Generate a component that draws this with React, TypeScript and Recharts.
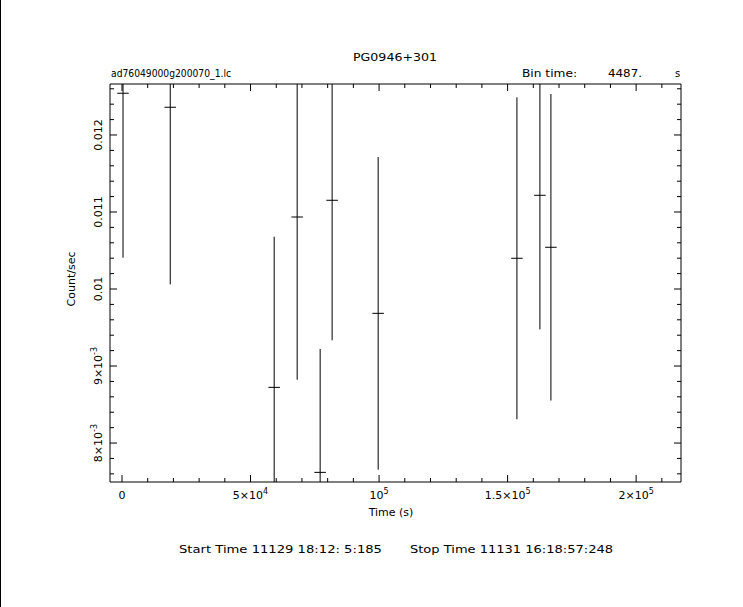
import React from 'react';
import { ScatterChart, Scatter, XAxis, YAxis, ErrorBar } from 'recharts';

// Light curve bins (time in s since start, rate in count/sec)
const times = [400, 18770, 59200, 68140, 77080, 81740, 99650, 153630, 162570, 166850];
const rates = [0.012542, 0.01236, 0.008723, 0.010935, 0.007619, 0.011152, 0.009684, 0.010399, 0.011217, 0.010542];
const rateErrors = [0.002136, 0.0023, 0.001956, 0.002113, 0.001602, 0.001818, 0.00203, 0.00209, 0.00174, 0.00199];
const halfBin = 2243.5;

const xTicks = [0, 10000, 20000, 30000, 40000, 50000, 60000, 70000, 80000, 90000, 100000, 110000, 120000, 130000, 140000, 150000, 160000, 170000, 180000, 190000, 200000, 210000];
const xMajorTicks = [0, 50000, 100000, 150000, 200000];
const xTickLabels = ['0', '5×10^4', '10^5', '1.5×10^5', '2×10^5'];

const yTicks = [0.0076, 0.0078, 0.008, 0.0082, 0.0084, 0.0086, 0.0088, 0.009, 0.0092, 0.0094, 0.0096, 0.0098, 0.01, 0.0102, 0.0104, 0.0106, 0.0108, 0.011, 0.0112, 0.0114, 0.0116, 0.0118, 0.012, 0.0122, 0.0124, 0.0126];
const yMajorTicks = [0.008, 0.009, 0.01, 0.011, 0.012];
const yTickLabels = ['8×10^-3', '9×10^-3', '0.01', '0.011', '0.012'];

const xDomain = [-4664, 217450];
const yDomain = [0.007494, 0.012662];

// error bars are clipped at the plot frame, like the original viewport clipping
const data = times.map((t, i) => ({
  t,
  rate: rates[i],
  err: [Math.min(rateErrors[i], rates[i] - yDomain[0]), Math.min(rateErrors[i], yDomain[1] - rates[i])],
  xerr: halfBin,
}));

const FONT = '"DejaVu Sans", sans-serif';
const MAJOR = 7;
const MINOR = 4;
const AX = 20;

const majorIndex = (v: number, majors: number[]) => majors.findIndex((m) => Math.abs(m - v) < Math.abs(m) * 1e-6 + 1e-12);

const renderLabel = (s: string) => {
  const parts = s.split('^');
  return (
    <>
      <tspan>{parts[0]}</tspan>
      {parts[1] !== undefined && (
        <tspan dy={-5} fontSize={8}>{parts[1]}</tspan>
      )}
    </>
  );
};

const BottomTick = (props: any) => {
  const { x, y, payload } = props;
  const idx = majorIndex(payload.value, xMajorTicks);
  const major = idx >= 0;
  return (
    <g>
      <line x1={x} x2={x} y1={y} y2={y - (major ? MAJOR : MINOR)} stroke="#000" strokeWidth={1} />
      {major && (
        <text x={x} y={y + 17} textAnchor="middle" fontFamily={FONT} fontSize={11} fill="#000">
          {renderLabel(xTickLabels[idx])}
        </text>
      )}
    </g>
  );
};

const TopTick = (props: any) => {
  const { x, y, payload } = props;
  const major = majorIndex(payload.value, xMajorTicks) >= 0;
  return <line x1={x} x2={x} y1={y} y2={y + (major ? MAJOR : MINOR)} stroke="#000" strokeWidth={1} />;
};

const LeftTick = (props: any) => {
  const { x, y, payload } = props;
  const idx = majorIndex(payload.value, yMajorTicks);
  const major = idx >= 0;
  return (
    <g>
      <line x1={x} x2={x + (major ? MAJOR : MINOR)} y1={y} y2={y} stroke="#000" strokeWidth={1} />
      {major && (
        <text
          transform={`translate(${x - 8},${y}) rotate(-90)`}
          textAnchor="middle"
          fontFamily={FONT}
          fontSize={11}
          fill="#000"
        >
          {renderLabel(yTickLabels[idx])}
        </text>
      )}
    </g>
  );
};

const RightTick = (props: any) => {
  const { x, y, payload } = props;
  const major = majorIndex(payload.value, yMajorTicks) >= 0;
  return <line x1={x} x2={x - (major ? MAJOR : MINOR)} y1={y} y2={y} stroke="#000" strokeWidth={1} />;
};

const NoShape = () => <g />;

export default function App() {
  return (
    <div style={{ position: 'absolute', left: 0, top: 0, width: 743, height: 607, background: '#fff' }}>
      <ScatterChart width={743} height={607} margin={{ top: 84 - AX, right: 62 - AX, bottom: 125 - AX, left: 110 - AX }}>
        <XAxis
          xAxisId="b"
          dataKey="t"
          type="number"
          domain={xDomain}
          allowDataOverflow
          ticks={xTicks}
          interval={0}
          tickSize={0}
          tickMargin={0}
          height={AX}
          orientation="bottom"
          axisLine={{ stroke: '#000', strokeWidth: 1 }}
          tickLine={false}
          tick={<BottomTick />}
        />
        <XAxis
          xAxisId="t"
          dataKey="t"
          type="number"
          domain={xDomain}
          allowDataOverflow
          ticks={xTicks}
          interval={0}
          tickSize={0}
          tickMargin={0}
          height={AX}
          orientation="top"
          axisLine={{ stroke: '#000', strokeWidth: 1 }}
          tickLine={false}
          tick={<TopTick />}
        />
        <YAxis
          yAxisId="l"
          dataKey="rate"
          type="number"
          domain={yDomain}
          allowDataOverflow
          ticks={yTicks}
          interval={0}
          tickSize={0}
          tickMargin={0}
          width={AX}
          orientation="left"
          axisLine={{ stroke: '#000', strokeWidth: 1 }}
          tickLine={false}
          tick={<LeftTick />}
        />
        <YAxis
          yAxisId="r"
          dataKey="rate"
          type="number"
          domain={yDomain}
          allowDataOverflow
          ticks={yTicks}
          interval={0}
          tickSize={0}
          tickMargin={0}
          width={AX}
          orientation="right"
          axisLine={{ stroke: '#000', strokeWidth: 1 }}
          tickLine={false}
          tick={<RightTick />}
        />
        <Scatter data={data} xAxisId="b" yAxisId="l" shape={<NoShape />} isAnimationActive={false}>
          <ErrorBar dataKey="err" direction="y" width={0} stroke="#000" strokeWidth={1} isAnimationActive={false} />
          <ErrorBar dataKey="xerr" direction="x" width={0} stroke="#000" strokeWidth={1} isAnimationActive={false} />
        </Scatter>
        <Scatter data={data} xAxisId="t" yAxisId="r" shape={<NoShape />} isAnimationActive={false} />
      </ScatterChart>
      <svg
        width={743}
        height={607}
        style={{ position: 'absolute', left: 0, top: 0, pointerEvents: 'none' }}
      >
        <line x1={0.5} x2={0.5} y1={0} y2={607} stroke="#000" strokeWidth={1} />
        <text x={353} y={61} fontFamily={FONT} fontSize={11} textLength={84} lengthAdjust="spacingAndGlyphs" fill="#000">PG0946+301</text>
        <text x={111} y={77} fontFamily={FONT} fontSize={10} textLength={120} lengthAdjust="spacingAndGlyphs" fill="#000">ad76049000g200070_1.lc</text>
        <text x={522} y={77} fontFamily={FONT} fontSize={10} textLength={55} lengthAdjust="spacingAndGlyphs" fill="#000">Bin time:</text>
        <text x={608} y={77} fontFamily={FONT} fontSize={10} textLength={34} lengthAdjust="spacingAndGlyphs" fill="#000">4487.</text>
        <text x={675} y={77} fontFamily={FONT} fontSize={10} fill="#000">s</text>
        <text x={391} y={516} textAnchor="middle" fontFamily={FONT} fontSize={11} fill="#000">Time (s)</text>
        <text transform="translate(75,279) rotate(-90)" textAnchor="middle" fontFamily={FONT} fontSize={11} fill="#000">Count/sec</text>
        <text x={179} y={553} fontFamily={FONT} fontSize={11} textLength={203} lengthAdjust="spacingAndGlyphs" fill="#000">Start Time 11129 18:12: 5:185</text>
        <text x={410} y={553} fontFamily={FONT} fontSize={11} textLength={203} lengthAdjust="spacingAndGlyphs" fill="#000">Stop Time 11131 16:18:57:248</text>
      </svg>
    </div>
  );
}
